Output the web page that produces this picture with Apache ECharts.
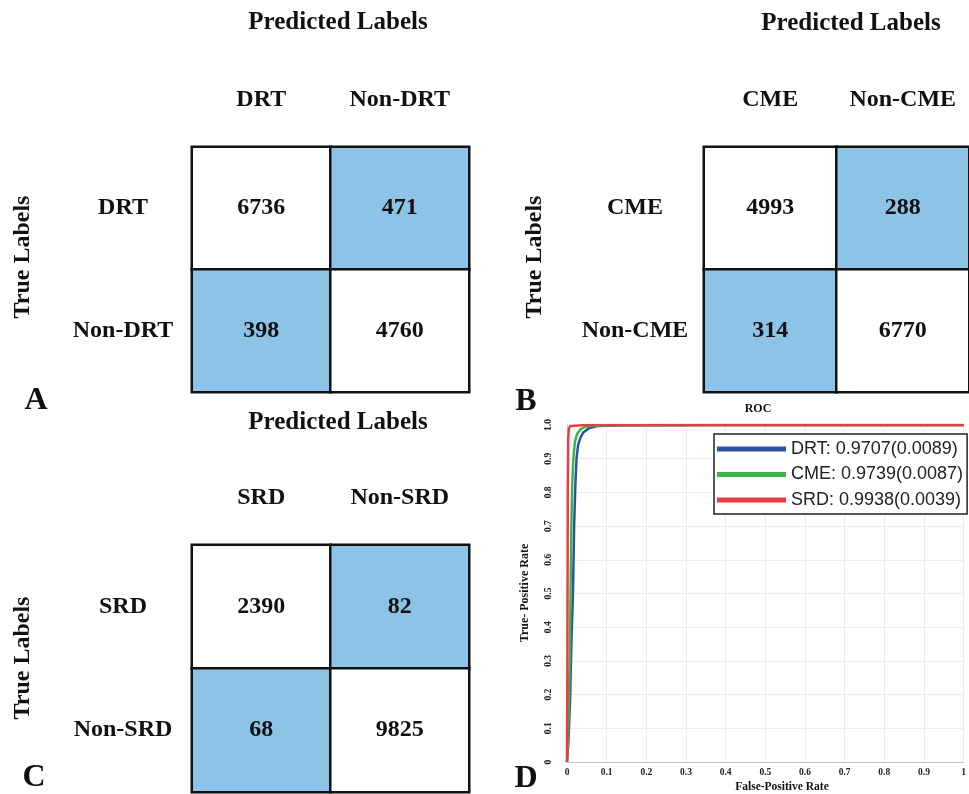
<!DOCTYPE html>
<html>
<head>
<meta charset="utf-8">
<script src="https://cdn.jsdelivr.net/npm/echarts@6.0.0/dist/echarts.min.js"></script>
<style>
  html, body { margin: 0; padding: 0; background: #fff; }
  #chart { width: 969px; height: 794px; }
</style>
</head>
<body>
<div id="chart"></div>
<script>
// confusion matrices, rows = true label, cols = predicted label
const drtLabels = ['DRT', 'Non-DRT']
const drtMatrix = [[6736, 471], [398, 4760]]
const cmeLabels = ['CME', 'Non-CME']
const cmeMatrix = [[4993, 288], [314, 6770]]
const srdLabels = ['SRD', 'Non-SRD']
const srdMatrix = [[2390, 82], [68, 9825]]

// ROC curves
const rocNames = ['DRT', 'CME', 'SRD']
const aucMean = ['0.9707', '0.9739', '0.9938']
const aucStd = ['0.0089', '0.0087', '0.0039']
const drtFpr = [0, 0.003, 0.005, 0.008, 0.011, 0.015, 0.018, 0.021, 0.024, 0.028, 0.033, 0.041, 0.055, 0.076, 0.15, 0.4, 1]
const drtTpr = [0, 0.05, 0.1, 0.2, 0.35, 0.5, 0.7, 0.82, 0.9, 0.94, 0.96, 0.978, 0.99, 0.997, 0.999, 1, 1]
const cmeFpr = [0, 0.002, 0.004, 0.007, 0.009, 0.011, 0.013, 0.016, 0.02, 0.026, 0.034, 0.045, 0.065, 0.12, 0.4, 1]
const cmeTpr = [0, 0.05, 0.15, 0.3, 0.5, 0.7, 0.82, 0.9, 0.95, 0.975, 0.987, 0.994, 0.998, 0.999, 1, 1]
const srdFpr = [0, 0.001, 0.002, 0.003, 0.005, 0.008, 0.012, 0.05, 1]
const srdTpr = [0, 0.3, 0.8, 0.96, 0.99, 0.997, 1, 1, 1]

const serif = "'Liberation Serif', 'Times New Roman', serif"
const sans = "'Liberation Sans', Arial, sans-serif"
const cellBlue = '#8dc3e7'
const rocColors = ['#2f50a6', '#3bb54a', '#ee3b3e']

function matrixData(mat) {
  const out = []
  for (let i = 0; i < mat.length; i++) {
    for (let j = 0; j < mat[i].length; j++) {
      out.push({
        value: [j, i, mat[i][j]],
        itemStyle: { color: i === j ? '#ffffff' : cellBlue },
      })
    }
  }
  return out
}

function matrixAxes(labels, gridIndex) {
  const xAxis = {
    type: 'category',
    gridIndex,
    position: 'top',
    data: labels,
    axisLine: { show: false },
    axisTick: { show: false },
    splitLine: { show: false },
    axisLabel: {
      interval: 0,
      hideOverlap: false,
      margin: 47,
      verticalAlign: 'middle',
      fontFamily: serif,
      fontWeight: 'bold',
      fontSize: 24,
      color: '#111',
    },
  }
  const yAxis = {
    type: 'category',
    gridIndex,
    inverse: true,
    data: labels,
    axisLine: { show: false },
    axisTick: { show: false },
    splitLine: { show: false },
    axisLabel: {
      interval: 0,
      margin: 69,
      align: 'center',
      fontFamily: serif,
      fontWeight: 'bold',
      fontSize: 24,
      color: '#111',
    },
  }
  return [xAxis, yAxis]
}

function matrixSeries(name, mat, idx) {
  return {
    name,
    type: 'heatmap',
    xAxisIndex: idx,
    yAxisIndex: idx,
    data: matrixData(mat),
    itemStyle: { borderColor: '#111', borderWidth: 2.5 },
    label: {
      show: true,
      formatter: (p) => String(p.value[2]),
      fontFamily: serif,
      fontWeight: 'bold',
      fontSize: 24,
      color: '#111',
    },
    emphasis: { disabled: true },
  }
}

function zip(a, b) {
  return a.map((v, i) => [v, b[i]])
}

function text(x, y, str, size, opts = {}) {
  return {
    type: 'text',
    x,
    y,
    rotation: opts.rotation || 0,
    style: {
      text: str,
      font: `bold ${size}px ${serif}`,
      fill: '#111',
      align: 'center',
      verticalAlign: 'middle',
      textAlign: 'center',
      textVerticalAlign: 'middle',
    },
  }
}

const [axA, ayA] = matrixAxes(drtLabels, 0)
const [axB, ayB] = matrixAxes(cmeLabels, 1)
const [axC, ayC] = matrixAxes(srdLabels, 2)

const tickFont = {
  fontFamily: serif,
  fontWeight: 'bold',
  fontSize: 9.5,
  color: '#222',
}

const chart = echarts.init(document.getElementById('chart'))
chart.setOption({
  animation: false,
  backgroundColor: '#fff',
  grid: [
    { left: 192, top: 147, width: 277, height: 245 },
    { left: 704, top: 147, width: 276, height: 245 },
    { left: 192, top: 545, width: 277, height: 247 },
    { left: 567, top: 425, width: 407, height: 337 },
  ],
  xAxis: [
    axA, axB, axC,
    {
      type: 'value',
      gridIndex: 3,
      min: 0,
      max: 1,
      interval: 0.1,
      axisLine: { show: true, lineStyle: { color: '#c4c4c4', width: 1 } },
      axisTick: { show: false },
      splitLine: { show: true, lineStyle: { color: '#ececec', width: 1 } },
      axisLabel: {
        ...tickFont,
        margin: 11,
        verticalAlign: 'middle',
        formatter: (v) => (v === 0 ? '0' : v === 1 ? '1' : v.toFixed(1)),
      },
    },
  ],
  yAxis: [
    ayA, ayB, ayC,
    {
      type: 'value',
      gridIndex: 3,
      min: 0,
      max: 1,
      interval: 0.1,
      axisLine: { show: true, lineStyle: { color: '#c4c4c4', width: 1 } },
      axisTick: { show: false },
      splitLine: { show: true, lineStyle: { color: '#ececec', width: 1 } },
      axisLabel: {
        ...tickFont,
        rotate: 90,
        margin: 13,
        formatter: (v) => (v === 0 ? '0' : v.toFixed(1)),
      },
    },
  ],
  legend: {
    data: rocNames,
    orient: 'vertical',
    left: 714,
    top: 434,
    padding: [5, 4, 4, 3],
    itemGap: 5.5,
    itemWidth: 69,
    itemHeight: 5,
    icon: 'rect',
    selectedMode: false,
    borderColor: '#222',
    borderWidth: 1.5,
    borderRadius: 0,
    backgroundColor: '#fff',
    formatter: (name) => {
      const i = rocNames.indexOf(name)
      return `${name}: ${aucMean[i]}(${aucStd[i]})`
    },
    textStyle: {
      fontFamily: sans,
      fontSize: 18,
      lineHeight: 20,
      color: '#222',
    },
  },
  series: [
    matrixSeries('DRT matrix', drtMatrix, 0),
    matrixSeries('CME matrix', cmeMatrix, 1),
    matrixSeries('SRD matrix', srdMatrix, 2),
    ...[
      [drtFpr, drtTpr],
      [cmeFpr, cmeTpr],
      [srdFpr, srdTpr],
    ].map(([fpr, tpr], i) => ({
      name: rocNames[i],
      type: 'line',
      xAxisIndex: 3,
      yAxisIndex: 3,
      data: zip(fpr, tpr),
      showSymbol: false,
      symbol: 'none',
      color: rocColors[i],
      lineStyle: { width: 2.5, color: rocColors[i] },
      emphasis: { disabled: true },
      z: 3 + i,
    })),
  ],
  graphic: [
    text(338, 23, 'Predicted Labels', 25),
    text(851, 24, 'Predicted Labels', 25),
    text(338, 423, 'Predicted Labels', 25),
    text(23, 257, 'True Labels', 24, { rotation: Math.PI / 2 }),
    text(535, 257, 'True Labels', 24, { rotation: Math.PI / 2 }),
    text(23, 658, 'True Labels', 24, { rotation: Math.PI / 2 }),
    text(36, 401, 'A', 32),
    text(526, 402, 'B', 32),
    text(34, 778, 'C', 32),
    text(526, 779, 'D', 32),
    text(758, 409, 'ROC', 12),
    text(525, 593, 'True- Positive Rate', 12, { rotation: Math.PI / 2 }),
    text(782, 787, 'False-Positive Rate', 11.5),
  ],
})
</script>
</body>
</html>
